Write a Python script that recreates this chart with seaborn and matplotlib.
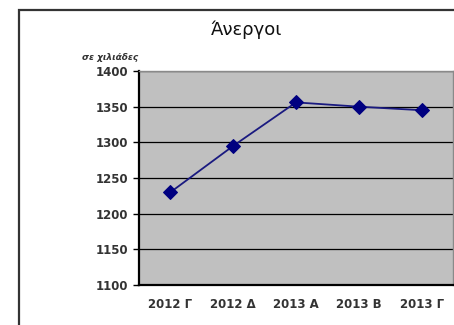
import matplotlib
matplotlib.use("Agg")
import matplotlib.pyplot as plt
import seaborn as sns
import pandas as pd
from matplotlib.patches import Rectangle

# data
quarters = ["2012 Γ", "2012 Δ", "2013 Α", "2013 Β", "2013 Γ"]
unemployed = [1230, 1295, 1356, 1350, 1345]
yticks = [1100, 1150, 1200, 1250, 1300, 1350, 1400]

df = pd.DataFrame({"quarter": quarters, "value": unemployed})

sns.set_style("white")
plt.rcParams["font.family"] = ["DejaVu Sans"]

W, H = 454, 325
fig = plt.figure(figsize=(W / 100, H / 100), dpi=100)
ax = fig.add_axes([139 / W, 1 - 285 / H, (453 - 139) / W, (285 - 71) / H])
ax.set_facecolor("#c0c0c0")

sns.lineplot(data=df, x="quarter", y="value", ax=ax, color="#1a1a80",
             marker="D", markersize=7, markeredgecolor="#000080",
             markerfacecolor="#000080", linewidth=1.3, sort=False)

ax.set_ylim(1100, 1400)
ax.set_xlim(-0.5, len(quarters) - 0.5)
ax.set_yticks(yticks)
ax.set_yticklabels([str(v) for v in yticks], fontsize=8.5, color="#333333", fontweight="bold")
ax.set_xticks(range(len(quarters)))
ax.set_xticklabels(quarters, fontsize=8.5, color="#333333", fontweight="bold")
ax.set_xticks([i + 0.5 for i in range(-1, len(quarters))], minor=True)
ax.tick_params(axis="x", which="major", length=0, pad=9)
ax.tick_params(axis="x", which="minor", length=4, width=1, color="black")
ax.tick_params(axis="y", length=4, width=1, color="black", left=True, pad=4)
ax.set_xlabel("")
ax.set_ylabel("")
ax.grid(axis="y", color="black", linewidth=0.9)
ax.set_axisbelow(True)

for s in ["left", "bottom"]:
    ax.spines[s].set_color("black")
    ax.spines[s].set_linewidth(1.6)
for s in ["top", "right"]:
    ax.spines[s].set_color("#8a8a8a")
    ax.spines[s].set_linewidth(1)

fig.text(247 / W, 1 - 30 / H, "Άνεργοι", ha="center", va="center", fontsize=13, color="#111111")
fig.text(110 / W, 1 - 57 / H, "σε χιλιάδες", ha="center", va="center", fontsize=6.5,
         style="italic", fontweight="bold", color="#333333")

# outer chart frame
fig.patches.append(Rectangle((19 / W, -0.1), 1.2, 1 - 9.5 / H + 0.1, transform=fig.transFigure,
                             fill=False, edgecolor="#333333", linewidth=1.6))

fig.savefig("out.png", dpi=100)
